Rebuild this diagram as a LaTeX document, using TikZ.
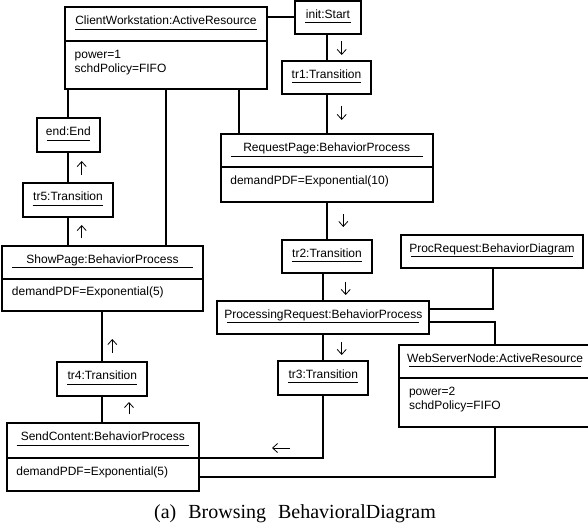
\documentclass[tikz,border=0pt]{standalone}
\usepackage{fontspec}
\setmainfont{Liberation Serif}
\setsansfont{Liberation Sans}
\usetikzlibrary{arrows.meta,calc,fit}

\begin{document}
\begin{tikzpicture}[x=1pt,y=-1pt,
  objframe/.style={draw, line width=1.7pt, inner sep=0pt, outer sep=0pt},
  link/.style={line width=1.7pt},
  uline/.style={line width=0.9pt},
  divider/.style={line width=1.7pt},
  titletext/.style={font=\sffamily\fontsize{12}{14}\selectfont, inner sep=0pt, anchor=base},
  attrtext/.style={font=\sffamily\fontsize{12}{14}\selectfont, inner sep=0pt, anchor=base west},
  dirmark/.style={line width=0.8pt, -{Straight Barb[length=5pt,width=9pt]}},
]
\useasboundingbox (0,0) rectangle (588,527);

% ---------- object boxes ----------
\node[objframe, fit={(65,7.3) (266.7,89.3)}]    (cw)   {};
\node[objframe, fit={(295,1) (361,34)}]         (init) {};
\node[objframe, fit={(282,61) (371,94.3)}]      (tr1)  {};
\node[objframe, fit={(36.7,118.3) (100,151.7)}] (endn) {};
\node[objframe, fit={(220.7,134.3) (432.7,201.7)}] (rp) {};
\node[objframe, fit={(22.7,183.3) (113.3,216.7)}]  (tr5) {};
\node[objframe, fit={(2.3,245.7) (202.7,311)}]     (sp)  {};
\node[objframe, fit={(282.3,240) (371.7,273.3)}]   (tr2) {};
\node[objframe, fit={(217.3,300.7) (429.3,334)}]   (pr)  {};
\node[objframe, fit={(401,235) (583,268.3)}]       (proc) {};
\node[objframe, fit={(278.3,361) (368.3,395)}]     (tr3) {};
\node[objframe, fit={(399.3,345) (591,426.7)}]     (ws)  {};
\node[objframe, fit={(57.3,362.3) (147.3,395.7)}]  (tr4) {};
\node[objframe, fit={(6.7,423.3) (199,491)}]       (sc)  {};

% compartment dividers
\draw[divider] (cw.west |- 0,40.7)  -- (cw.east |- 0,40.7);
\draw[divider] (rp.west |- 0,166.7) -- (rp.east |- 0,166.7);
\draw[divider] (sp.west |- 0,279)   -- (sp.east |- 0,279);
\draw[divider] (ws.west |- 0,377.7) -- (ws.east |- 0,377.7);
\draw[divider] (sc.west |- 0,457.7) -- (sc.east |- 0,457.7);

% object names with their underlines
\foreach \b/\t in {cw/ClientWorkstation:ActiveResource, init/init:Start,
    tr1/tr1:Transition, endn/end:End, rp/RequestPage:BehaviorProcess,
    tr5/tr5:Transition, sp/ShowPage:BehaviorProcess, tr2/tr2:Transition,
    pr/ProcessingRequest:BehaviorProcess, proc/ProcRequest:BehaviorDiagram,
    tr3/tr3:Transition, ws/WebServerNode:ActiveResource, tr4/tr4:Transition,
    sc/SendContent:BehaviorProcess}{
  \node[titletext] (\b-name) at ($(\b.north)+(0,17.5)$) {\t};
  \draw[uline] ($(\b.north west)+(10,21.7)$) -- ($(\b.north east)+(-10,21.7)$);
}

% attribute lines
\node[attrtext] (cw-a1) at (74.5,58.2)  {power=1};
\node[attrtext] (cw-a2) at (74.5,72.2)  {schdPolicy=FIFO};
\node[attrtext] (rp-a1) at (230.2,184.2) {demandPDF=Exponential(10)};
\node[attrtext] (sp-a1) at (11.8,295.5) {demandPDF=Exponential(5)};
\node[attrtext] (ws-a1) at (408.8,395.2) {power=2};
\node[attrtext] (ws-a2) at (408.8,409.2) {schdPolicy=FIFO};
\node[attrtext] (sc-a1) at (16.2,475.2) {demandPDF=Exponential(5)};

% ---------- links ----------
\draw[link] (cw.east |- 0,17.3) -- (init.west |- 0,17.3);
\draw[link] (init.south -| 326.7,0) -- (tr1.north -| 326.7,0);
\draw[link] (tr1.south -| 326.7,0) -- (rp.north -| 326.7,0);
\draw[link] (cw.south -| 68,0) -- (endn.north -| 68,0);
\draw[link] (endn.south -| 68,0) -- (tr5.north -| 68,0);
\draw[link] (tr5.south -| 68,0) -- (sp.north -| 68,0);
\draw[link] (cw.south -| 165.7,0) -- (sp.north -| 165.7,0);
\draw[link] (cw.south -| 238.7,0) -- (rp.north -| 238.7,0);
\draw[link] (rp.south -| 326.7,0) -- (tr2.north -| 326.7,0);
\draw[link] (tr2.south -| 322.7,0) -- (pr.north -| 322.7,0);
\draw[link] (proc.south -| 492.7,0) |- (pr.east |- 0,309);
\draw[link] (pr.east |- 0,321.7) -| (ws.north -| 495,0);
\draw[link] (pr.south -| 322.7,0) -- (tr3.north -| 322.7,0);
\draw[link] (sp.south -| 102.3,0) -- (tr4.north -| 102.3,0);
\draw[link] (tr4.south -| 102.3,0) -- (sc.north -| 102.3,0);
\draw[link] (tr3.south -| 322.7,0) |- (sc.east |- 0,457.7);
\draw[link] (ws.south -| 495,0) |- (sc.east |- 0,476.7);

% ---------- flow direction marks ----------
\draw[dirmark] (341.7,41) -- (341.7,55);
\draw[dirmark] (341.7,106) -- (341.7,120);
\draw[dirmark] (343.3,214) -- (343.3,227);
\draw[dirmark] (345.7,282) -- (345.7,295);
\draw[dirmark] (341.7,342) -- (341.7,355);
\draw[dirmark] (81.7,175) -- (81.7,161);
\draw[dirmark] (81.7,238) -- (81.7,225);
\draw[dirmark] (112.3,353) -- (112.3,339);
\draw[dirmark] (129,414) -- (129,402);
\draw[dirmark] (290,448) -- (272,448);

% ---------- caption ----------
\node[font=\fontsize{20}{24}\selectfont, inner sep=0pt, anchor=base] (caption) at (295,518)
  {(a)\hspace{12pt}Browsing\hspace{12pt}BehavioralDiagram};
\end{tikzpicture}
\end{document}
